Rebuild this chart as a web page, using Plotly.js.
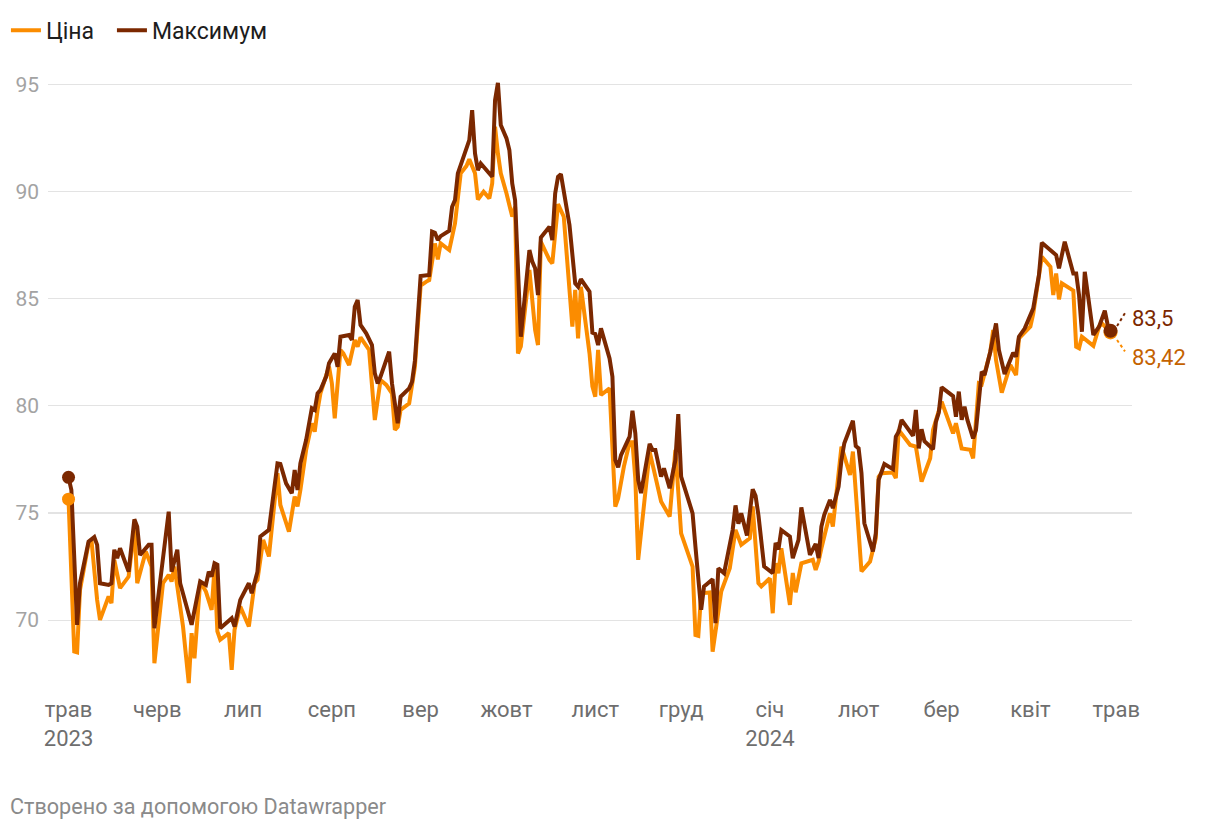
<!DOCTYPE html>
<html>
<head>
<meta charset="utf-8">
<script src="https://cdn.plot.ly/plotly-3.0.1.min.js"></script>
<style>
html,body{margin:0;padding:0;background:#fff;}
#chart{width:1220px;height:830px;}
</style>
</head>
<body>
<div id="chart"></div>
<script>
// ---- Data ----
const seriesNames = ['Ціна', 'Максимум'];

const priceDates = ['2023-05-01','2023-05-03','2023-05-04','2023-05-05','2023-05-08','2023-05-09','2023-05-11','2023-05-12','2023-05-15','2023-05-16','2023-05-17','2023-05-19','2023-05-22','2023-05-24','2023-05-25','2023-05-27','2023-05-28','2023-05-30','2023-05-31',
'2023-06-03','2023-06-05','2023-06-06','2023-06-07','2023-06-10','2023-06-12','2023-06-13','2023-06-14','2023-06-16','2023-06-18','2023-06-20','2023-06-21','2023-06-22','2023-06-23','2023-06-26','2023-06-27','2023-06-28','2023-06-30',
'2023-07-03','2023-07-05','2023-07-06','2023-07-08','2023-07-10','2023-07-13','2023-07-14','2023-07-17','2023-07-19','2023-07-20','2023-07-21','2023-07-23','2023-07-25','2023-07-26','2023-07-27','2023-07-28','2023-07-31',
'2023-08-01','2023-08-02','2023-08-04','2023-08-05','2023-08-07','2023-08-09','2023-08-10','2023-08-11','2023-08-14','2023-08-16','2023-08-18','2023-08-20','2023-08-22','2023-08-23','2023-08-24','2023-08-25','2023-08-28','2023-08-30',
'2023-09-01','2023-09-03','2023-09-04','2023-09-06','2023-09-07','2023-09-08','2023-09-11','2023-09-13','2023-09-15','2023-09-17','2023-09-18','2023-09-20','2023-09-21','2023-09-23','2023-09-25','2023-09-26','2023-09-27','2023-09-28','2023-09-29',
'2023-10-01','2023-10-03','2023-10-04','2023-10-05','2023-10-06','2023-10-09','2023-10-11','2023-10-12','2023-10-13','2023-10-16','2023-10-17','2023-10-19','2023-10-21','2023-10-24','2023-10-25','2023-10-26','2023-10-27','2023-10-30','2023-10-31',
'2023-11-01','2023-11-02','2023-11-03','2023-11-06','2023-11-08','2023-11-09','2023-11-11','2023-11-13','2023-11-14','2023-11-15','2023-11-16','2023-11-20','2023-11-22','2023-11-24','2023-11-27','2023-11-28','2023-11-29',
'2023-12-01','2023-12-05','2023-12-06','2023-12-07','2023-12-08','2023-12-11','2023-12-12','2023-12-15','2023-12-18','2023-12-20','2023-12-22','2023-12-25','2023-12-26','2023-12-28','2023-12-29',
'2024-01-01','2024-01-02','2024-01-03','2024-01-04','2024-01-05','2024-01-08','2024-01-09','2024-01-10','2024-01-12','2024-01-16','2024-01-17','2024-01-18','2024-01-19','2024-01-22','2024-01-23','2024-01-26','2024-01-29','2024-01-30',
'2024-02-02','2024-02-05','2024-02-07','2024-02-08','2024-02-09','2024-02-13','2024-02-14','2024-02-15','2024-02-19','2024-02-21','2024-02-23','2024-02-26','2024-02-27',
'2024-03-01','2024-03-05','2024-03-06','2024-03-08','2024-03-11','2024-03-12','2024-03-14','2024-03-15','2024-03-18','2024-03-19','2024-03-20','2024-03-22','2024-03-25','2024-03-27','2024-03-28',
'2024-04-01','2024-04-02','2024-04-05','2024-04-08','2024-04-09','2024-04-10','2024-04-11','2024-04-12','2024-04-16','2024-04-17','2024-04-18','2024-04-19','2024-04-22','2024-04-23','2024-04-25','2024-04-26','2024-04-29'];

const priceValues = [75.64,68.54,68.50,71.40,73.58,73.74,70.94,70.01,71.10,70.79,72.81,71.49,72.03,74.36,71.72,72.81,73.20,72.50,67.99,
71.72,72.11,71.80,72.50,69.70,67.06,69.39,68.22,71.80,71.33,70.48,72.42,69.47,69.08,69.39,67.68,69.55,70.63,
69.70,71.72,71.88,73.74,72.97,76.85,75.37,74.13,75.76,75.30,76.07,77.94,79.18,78.79,79.80,80.58,81.82,
81.04,79.41,82.60,82.44,81.90,83.07,82.75,83.19,82.60,79.33,81.20,80.97,80.58,78.87,79.02,79.80,80.11,81.82,
85.60,85.79,85.86,87.57,86.83,87.57,87.26,88.50,90.84,91.18,91.50,90.84,89.62,89.98,89.67,90.37,93.01,91.77,90.84,
89.90,88.82,89.28,82.44,82.76,86.33,83.53,82.83,87.65,86.80,86.64,89.40,88.82,83.69,85.40,83.14,85.55,82.44,80.90,
80.42,82.60,80.50,80.81,75.29,75.68,77.16,78.30,78.30,76.60,72.81,77.86,76.69,75.53,74.83,76.50,77.94,
74.05,72.50,69.31,69.27,71.25,71.29,68.53,71.33,72.42,74.21,73.51,73.82,75.30,71.72,71.57,
71.95,70.32,72.65,72.19,73.35,70.71,72.20,71.30,72.65,72.81,72.34,72.73,73.35,74.98,74.36,78.09,76.77,77.86,
72.27,72.73,73.82,76.69,76.85,76.88,76.62,78.87,78.17,78.09,76.46,77.55,78.87,
80.19,78.71,79.18,78.01,77.94,77.55,81.05,81.00,82.50,83.53,82.13,80.61,81.90,81.43,83.14,
83.69,84.30,86.95,86.48,85.16,86.17,84.96,85.71,85.37,82.75,82.68,83.22,82.91,82.79,83.69,83.84,83.42];

const maxDates = ['2023-05-01','2023-05-02','2023-05-04','2023-05-05','2023-05-08','2023-05-10','2023-05-11','2023-05-12','2023-05-15','2023-05-16','2023-05-17','2023-05-18','2023-05-19','2023-05-22','2023-05-24','2023-05-25','2023-05-26','2023-05-29','2023-05-30','2023-05-31',
'2023-06-05','2023-06-06','2023-06-08','2023-06-09','2023-06-13','2023-06-16','2023-06-18','2023-06-19','2023-06-20','2023-06-21','2023-06-22','2023-06-23','2023-06-27','2023-06-28','2023-06-30',
'2023-07-03','2023-07-04','2023-07-06','2023-07-07','2023-07-10','2023-07-13','2023-07-14','2023-07-16','2023-07-18','2023-07-19','2023-07-20','2023-07-21','2023-07-23','2023-07-25','2023-07-26','2023-07-27','2023-07-28','2023-07-30','2023-07-31',
'2023-08-02','2023-08-03','2023-08-04','2023-08-07','2023-08-08','2023-08-09','2023-08-10','2023-08-11','2023-08-13','2023-08-15','2023-08-16','2023-08-17','2023-08-18','2023-08-21','2023-08-22','2023-08-24','2023-08-25','2023-08-28','2023-08-29','2023-08-30',
'2023-09-01','2023-09-04','2023-09-05','2023-09-06','2023-09-07','2023-09-08','2023-09-11','2023-09-12','2023-09-13','2023-09-14','2023-09-18','2023-09-19','2023-09-20','2023-09-21','2023-09-22','2023-09-24','2023-09-26','2023-09-27','2023-09-28','2023-09-29',
'2023-10-01','2023-10-02','2023-10-03','2023-10-04','2023-10-05','2023-10-06','2023-10-09','2023-10-10','2023-10-11','2023-10-12','2023-10-13','2023-10-16','2023-10-17','2023-10-18','2023-10-19','2023-10-20','2023-10-23','2023-10-25','2023-10-26','2023-10-27','2023-10-30','2023-10-31',
'2023-11-01','2023-11-02','2023-11-03','2023-11-05','2023-11-06','2023-11-07','2023-11-08','2023-11-09','2023-11-10','2023-11-13','2023-11-14','2023-11-15','2023-11-16','2023-11-17','2023-11-20','2023-11-21','2023-11-22','2023-11-24','2023-11-25','2023-11-27','2023-11-29','2023-11-30',
'2023-12-01','2023-12-03','2023-12-05','2023-12-06','2023-12-08','2023-12-09','2023-12-12','2023-12-13','2023-12-14','2023-12-16','2023-12-19','2023-12-20','2023-12-21','2023-12-22','2023-12-24','2023-12-26','2023-12-27','2023-12-28','2023-12-30',
'2024-01-02','2024-01-03','2024-01-04','2024-01-05','2024-01-08','2024-01-09','2024-01-11','2024-01-12','2024-01-15','2024-01-17','2024-01-18','2024-01-19','2024-01-20','2024-01-22','2024-01-23','2024-01-25','2024-01-26','2024-01-27','2024-01-30','2024-01-31',
'2024-02-01','2024-02-02','2024-02-03','2024-02-06','2024-02-07','2024-02-08','2024-02-10','2024-02-13','2024-02-14','2024-02-15','2024-02-16','2024-02-20','2024-02-21','2024-02-22','2024-02-23','2024-02-24','2024-02-27','2024-02-28','2024-02-29',
'2024-03-01','2024-03-05','2024-03-06','2024-03-07','2024-03-08','2024-03-09','2024-03-10','2024-03-12','2024-03-13','2024-03-15','2024-03-16','2024-03-18','2024-03-20','2024-03-21','2024-03-23','2024-03-26','2024-03-27','2024-03-28','2024-03-30',
'2024-04-02','2024-04-04','2024-04-05','2024-04-10','2024-04-11','2024-04-13','2024-04-16','2024-04-17','2024-04-18','2024-04-19','2024-04-20','2024-04-23','2024-04-25','2024-04-27','2024-04-28','2024-04-29'];

const maxValues = [76.66,76.07,69.78,71.72,73.66,73.87,73.51,71.72,71.64,71.72,73.28,72.89,73.35,72.26,74.70,74.36,73.04,73.51,73.51,69.62,
75.06,72.26,73.28,71.72,69.78,71.80,71.64,72.26,72.03,72.65,72.58,69.62,70.09,69.70,70.94,
71.72,71.25,72.26,73.90,74.21,77.31,77.28,76.38,75.92,77.00,76.07,77.31,78.40,79.88,79.80,80.58,80.73,81.36,81.98,
82.44,81.82,83.22,83.30,83.07,84.62,84.93,83.77,83.38,82.83,81.51,81.04,81.36,82.52,81.04,79.18,80.42,80.81,81.12,82.10,
86.05,86.10,88.12,88.07,87.73,87.91,88.16,89.28,89.59,90.84,92.39,93.79,91.77,90.99,91.30,90.99,90.68,94.25,95.06,93.09,
92.47,91.92,90.37,89.59,86.17,83.22,87.26,86.72,86.41,85.16,87.85,88.35,87.73,89.90,90.68,90.80,88.43,85.70,85.55,85.90,85.32,83.41,
83.35,82.83,83.61,82.70,82.21,81.36,77.47,77.13,77.70,78.56,79.77,78.71,76.54,75.92,78.22,77.94,77.94,76.69,77.08,76.15,77.47,79.61,
76.69,75.84,74.98,73.43,70.48,71.57,71.91,69.86,72.42,72.19,74.20,75.35,74.50,74.98,73.95,76.10,75.80,74.90,72.50,
72.19,73.60,73.30,74.20,73.90,72.89,73.74,75.26,73.04,73.55,72.89,74.36,74.91,75.61,75.22,76.23,77.47,78.25,79.30,78.12,
78.01,76.85,74.52,73.20,74.05,76.54,77.28,77.04,78.56,78.79,79.34,78.60,79.80,78.01,78.90,78.35,77.97,79.25,79.68,
80.86,80.45,79.49,80.66,79.34,79.96,79.34,78.48,78.87,81.59,81.43,82.52,83.84,82.60,81.48,82.47,82.29,83.22,83.60,
84.54,86.10,87.60,87.03,86.41,87.65,86.17,86.17,85.16,83.45,86.25,83.30,83.69,84.43,83.77,83.50];

const yTicks = [70, 75, 80, 85, 90, 95];
const monthTickDates = ['2023-05-01','2023-06-01','2023-07-01','2023-08-01','2023-09-01','2023-10-01','2023-11-01','2023-12-01','2024-01-01','2024-02-01','2024-03-01','2024-04-01','2024-05-01'];
const monthTickLabels = ['трав<br>2023','черв','лип','серп','вер','жовт','лист','груд','січ<br>2024','лют','бер','квіт','трав'];
const footerText = 'Створено за допомогою Datawrapper';

// ---- Styling ----
const ORANGE = '#fb8c00';
const BROWN = '#7b2800';
const ORANGE_LABEL = '#c46200';
const FONT = 'Roboto, "Noto Sans", sans-serif';

const fmt = v => String(v).replace('.', ',');
const last = a => a[a.length - 1];

const traces = [
  {x: priceDates, y: priceValues, name: seriesNames[0], type: 'scatter', mode: 'lines',
   line: {color: ORANGE, width: 4}, legendwidth: 61},
  {x: maxDates, y: maxValues, name: seriesNames[1], type: 'scatter', mode: 'lines',
   line: {color: BROWN, width: 4}},
  {x: [priceDates[0]], y: [priceValues[0]], type: 'scatter', mode: 'markers', showlegend: false,
   marker: {color: ORANGE, size: 13}},
  {x: [maxDates[0]], y: [maxValues[0]], type: 'scatter', mode: 'markers', showlegend: false,
   marker: {color: BROWN, size: 13}},
  {x: [last(priceDates)], y: [last(priceValues)], type: 'scatter', mode: 'markers', showlegend: false,
   marker: {color: ORANGE, size: 14}},
  {x: [last(maxDates)], y: [last(maxValues)], type: 'scatter', mode: 'markers', showlegend: false,
   marker: {color: BROWN, size: 14}}
];

const layout = {
  width: 1220, height: 830,
  margin: {l: 48, r: 88, t: 52, b: 137, autoexpand: false},
  paper_bgcolor: '#ffffff', plot_bgcolor: '#ffffff',
  font: {family: FONT, size: 21, color: '#333'},
  showlegend: true,
  legend: {orientation: 'h', x: -0.0388, xanchor: 'left', y: 1.034, yanchor: 'middle',
           font: {family: FONT, size: 23, color: '#1d1d1d'}, bgcolor: 'rgba(0,0,0,0)',
           itemwidth: 30, traceorder: 'normal'},
  xaxis: {type: 'date', range: ['2023-04-23 20:00', '2024-05-06 12:00'], automargin: false,
          tickmode: 'array', tickvals: monthTickDates, ticktext: monthTickLabels,
          showgrid: false, zeroline: false, showline: false, ticks: '',
          tickfont: {family: FONT, size: 22, color: '#6e6e6e'}, ticklabelstandoff: 1},
  yaxis: {range: [66.6, 96.5], tickmode: 'array', tickvals: yTicks, automargin: false,
          showgrid: true, gridcolor: '#e3e3e3', gridwidth: 1.2, zeroline: false, showline: false, ticks: '',
          tickfont: {family: FONT, size: 21, color: '#a3a3a3'}, ticklabelstandoff: 8},
  annotations: [
    {xref: 'x', yref: 'y', x: last(maxDates), y: 84.09, text: fmt(last(maxValues)), showarrow: false,
     xanchor: 'left', yanchor: 'middle', xshift: 19, font: {family: FONT, size: 22, color: BROWN}},
    {xref: 'x', yref: 'y', x: last(priceDates), y: 82.27, text: fmt(last(priceValues)), showarrow: false,
     xanchor: 'left', yanchor: 'middle', xshift: 19, font: {family: FONT, size: 22, color: ORANGE_LABEL}},
    {xref: 'paper', yref: 'paper', x: -0.037, y: -0.1763, text: footerText, showarrow: false,
     xanchor: 'left', yanchor: 'middle', font: {family: FONT, size: 21.6, color: '#8a8a8a'}}
  ],
  shapes: [
    {type: 'line', xref: 'paper', yref: 'paper', x0: 0.9862, y0: 0.5725, x1: 0.9935, y1: 0.5925,
     line: {color: BROWN, width: 2, dash: 'dot'}},
    {type: 'line', xref: 'paper', yref: 'paper', x0: 0.9862, y0: 0.5507, x1: 0.9935, y1: 0.5330,
     line: {color: ORANGE, width: 2, dash: 'dot'}}
  ],
  hovermode: false
};

Plotly.newPlot('chart', traces, layout, {staticPlot: true, displayModeBar: false});
</script>
</body>
</html>
